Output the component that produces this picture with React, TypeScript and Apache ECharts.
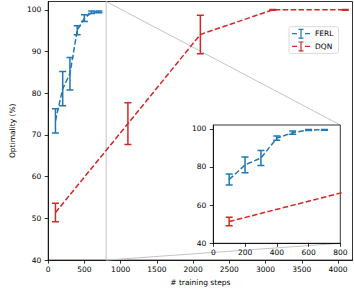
import React, { useEffect, useRef } from "react";
import * as echarts from "echarts";

// ---- data ----
const ferlSteps = [100, 200, 300, 400, 500, 600, 700];
const ferlMean = [73.4, 81.1, 84.7, 95.1, 98.0, 99.4, 99.5];
const ferlErr = [2.9, 4.1, 3.9, 1.1, 0.8, 0.3, 0.2];

const dqnSteps = [100, 1100, 2100, 3100, 4100];
const dqnMean = [51.4, 72.7, 94.1, 100, 100];
const dqnErr = [2.2, 5.0, 4.6, 0.1, 0.1];

const xTicksMain = [0, 500, 1000, 1500, 2000, 2500, 3000, 3500, 4000];
const yTicksMain = [40, 50, 60, 70, 80, 90, 100];
const xTicksInset = [0, 200, 400, 600, 800];
const yTicksInset = [40, 60, 80, 100];

const BLUE = "#1f77b4";
const RED = "#d62728";
const FONT = "DejaVu Sans";
const GRAY = "#c4c4c4";

const ICON =
  "path://M0,4.4H5V5.6H0Z M13,4.4H18V5.6H13Z M8.4,0.6H9.6V9.4H8.4Z M6.5,0H11.5V1.2H6.5Z M6.5,8.8H11.5V10H6.5Z";

function errData(steps: number[], mean: number[], err: number[]) {
  return steps.map((s, i) => [s, mean[i] - err[i], mean[i] + err[i]]);
}
function lineData(steps: number[], mean: number[]) {
  return steps.map((s, i) => [s, mean[i]]);
}

function errSeries(name: string, color: string, data: number[][], idx: number, z: number) {
  return {
    type: "custom",
    name,
    xAxisIndex: idx,
    yAxisIndex: idx,
    clip: true,
    z,
    data,
    renderItem: (params: any, api: any) => {
      const x = api.value(0);
      const lo = api.coord([x, api.value(1)]);
      const hi = api.coord([x, api.value(2)]);
      const cw = 3.5;
      const st = { stroke: color, lineWidth: 1.5 };
      return {
        type: "group",
        children: [
          { type: "line", shape: { x1: lo[0], y1: lo[1], x2: hi[0], y2: hi[1] }, style: st },
          { type: "line", shape: { x1: lo[0] - cw, y1: lo[1], x2: lo[0] + cw, y2: lo[1] }, style: st },
          { type: "line", shape: { x1: hi[0] - cw, y1: hi[1], x2: hi[0] + cw, y2: hi[1] }, style: st },
        ],
      };
    },
  };
}

function lineSeries(name: string, color: string, data: number[][], idx: number, z: number) {
  return {
    type: "line",
    name,
    xAxisIndex: idx,
    yAxisIndex: idx,
    data,
    symbol: "none",
    clip: true,
    z,
    color,
    lineStyle: { color, width: 1.5, type: [5.5, 2.4] },
  };
}

const axisCommon = {
  axisLine: { show: true, lineStyle: { color: "#000", width: 0.8 } },
  axisTick: { show: true, length: 3.5, lineStyle: { color: "#000", width: 0.8 } },
  splitLine: { show: false },
};
const plain = (v: number) => String(v);

export default function App() {
  const ref = useRef<HTMLDivElement>(null);
  useEffect(() => {
    if (!ref.current) return;
    const chart = echarts.init(ref.current, null, { renderer: "svg" });
    const labelStyle = { fontSize: 7.5, color: "#000", fontFamily: FONT };
    const option: any = {
      animation: false,
      backgroundColor: "#fff",
      textStyle: { fontFamily: FONT },
      grid: [
        { left: 34, right: 1.5, top: 1.5, bottom: 26.7, show: true, borderColor: "#000", borderWidth: 0.8, z: 0 },
        {
          left: 213.3, right: 13.7, top: 125, bottom: 47.7, show: true, borderColor: "#000", borderWidth: 0.8,
          backgroundColor: "#fff", z: 5,
        },
      ],
      xAxis: [
        {
          type: "value", gridIndex: 0, min: 0, max: 4200, ...axisCommon,
          axisTick: { ...axisCommon.axisTick, customValues: xTicksMain },
          axisLabel: { ...labelStyle, margin: 5, customValues: xTicksMain, formatter: plain },
          name: "# training steps", nameLocation: "middle", nameGap: 15,
          nameTextStyle: { ...labelStyle },
        },
        {
          type: "value", gridIndex: 1, min: 0, max: 800, ...axisCommon, z: 7,
          axisTick: { ...axisCommon.axisTick, customValues: xTicksInset },
          axisLabel: { ...labelStyle, margin: 5, customValues: xTicksInset, formatter: plain },
        },
      ],
      yAxis: [
        {
          type: "value", gridIndex: 0, min: 40, max: 102, ...axisCommon,
          axisTick: { ...axisCommon.axisTick, customValues: yTicksMain },
          axisLabel: { ...labelStyle, margin: 7, customValues: yTicksMain, formatter: plain },
          name: "Optimality (%)", nameLocation: "middle", nameGap: 22,
          nameTextStyle: { ...labelStyle },
        },
        {
          type: "value", gridIndex: 1, min: 40, max: 102, ...axisCommon, z: 7,
          axisTick: { ...axisCommon.axisTick, customValues: yTicksInset },
          axisLabel: { ...labelStyle, margin: 7, customValues: yTicksInset, formatter: plain },
        },
      ],
      legend: {
        data: [
          { name: "FERL", icon: ICON, itemStyle: { color: BLUE, borderWidth: 0 } },
          { name: "DQN", icon: ICON, itemStyle: { color: RED, borderWidth: 0 } },
        ],
        orient: "vertical",
        left: 289,
        top: 26.7,
        itemWidth: 18,
        itemHeight: 10,
        itemGap: 2.7,
        padding: [2, 5, 2, 3],
        borderColor: "#d0d0d0",
        borderWidth: 0.8,
        borderRadius: 2,
        backgroundColor: "#fff",
        textStyle: { ...labelStyle },
      },
      series: [
        lineSeries("FERL", BLUE, lineData(ferlSteps, ferlMean), 0, 2),
        errSeries("FERL-err", BLUE, errData(ferlSteps, ferlMean, ferlErr), 0, 3),
        lineSeries("DQN", RED, lineData(dqnSteps, dqnMean), 0, 2),
        errSeries("DQN-err", RED, errData(dqnSteps, dqnMean, dqnErr), 0, 3),
        lineSeries("FERL", BLUE, lineData(ferlSteps, ferlMean), 1, 8),
        errSeries("FERL-err", BLUE, errData(ferlSteps, ferlMean, ferlErr), 1, 9),
        lineSeries("DQN", RED, lineData(dqnSteps, dqnMean), 1, 8),
        errSeries("DQN-err", RED, errData(dqnSteps, dqnMean, dqnErr), 1, 9),
      ],
    };
    chart.setOption(option);

    const m = (p: number[]) => chart.convertToPixel({ gridIndex: 0 } as any, p) as number[];
    const n = (p: number[]) => chart.convertToPixel({ gridIndex: 1 } as any, p) as number[];
    const a = m([800, 40]);
    const b = m([800, 102]);
    const c = n([800, 102]);
    const d = n([800, 40]);
    const ls = { stroke: GRAY, lineWidth: 1 };
    chart.setOption({
      graphic: [
        { type: "line", z: 1, shape: { x1: a[0], y1: a[1], x2: b[0], y2: b[1] }, style: ls },
        { type: "line", z: 1, shape: { x1: b[0], y1: b[1], x2: c[0], y2: c[1] }, style: ls },
        { type: "line", z: 1, shape: { x1: a[0], y1: a[1], x2: d[0], y2: d[1] }, style: ls },
      ],
    });

    return () => chart.dispose();
  }, []);
  return <div ref={ref} style={{ width: 354, height: 291, position: "absolute", left: 0, top: 0 }} />;
}
